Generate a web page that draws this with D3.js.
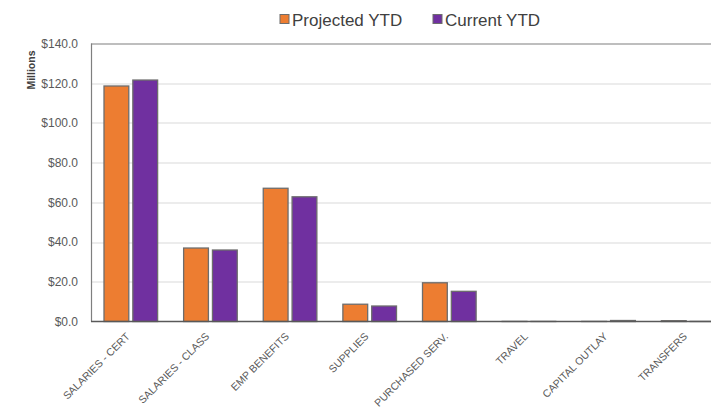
<!DOCTYPE html>
<html>
<head>
<meta charset="utf-8">
<script src="https://cdn.jsdelivr.net/npm/d3@7"></script>
<style>
  html, body { margin: 0; padding: 0; background: #fff; }
  svg { display: block; font-family: "Liberation Sans", Arial, sans-serif; }
</style>
</head>
<body>
<svg id="chart" width="711" height="412"></svg>
<script>
// Budget categories and year-to-date spending (millions of dollars)
const categories = ["SALARIES - CERT", "SALARIES - CLASS", "EMP BENEFITS", "SUPPLIES",
  "PURCHASED SERV.", "TRAVEL", "CAPITAL OUTLAY", "TRANSFERS"];
const projectedYTD = [118.6, 37.0, 67.1, 8.7, 19.5, 0.05, 0.05, 0.4];
const currentYTD   = [121.6, 36.0, 62.8, 7.8, 15.2, 0.05, 0.5, 0.05];
const seriesNames = ["Projected YTD", "Current YTD"];
const seriesColors = ["#ED7D31", "#7030A0"];
const yTicks = [0, 20, 40, 60, 80, 100, 120, 140];

const svg = d3.select("#chart");
const margin = { left: 91, top: 43.5, right: -17, bottom: 90.5 };
const W = 711, H = 412;
const plotW = W - margin.left - margin.right;
const plotH = H - margin.top - margin.bottom;

const x = d3.scaleBand().domain(categories).range([0, plotW]).paddingInner(0).paddingOuter(0);
const x1 = d3.scaleBand().domain(seriesNames).range([13, x.bandwidth() - 13]).paddingInner(0.14);
const y = d3.scaleLinear().domain([0, 140]).range([plotH, 0]);

const g = svg.append("g").attr("transform", `translate(${margin.left},${margin.top})`);

// horizontal gridlines
g.append("g").selectAll("line").data(yTicks.slice(1, -1)).join("line")
  .attr("x1", 0).attr("x2", plotW)
  .attr("y1", d => Math.round(y(d)) + 0.5).attr("y2", d => Math.round(y(d)) + 0.5)
  .attr("stroke", "#d9d9d9").attr("stroke-width", 1);

// y axis labels
const yAxis = d3.axisLeft(y).tickValues(yTicks).tickSize(0).tickPadding(13)
  .tickFormat(d => "$" + d.toFixed(1));
const ya = g.append("g").call(yAxis);
ya.select(".domain").remove();
ya.selectAll("text").attr("fill", "#595959").style("font-size", "12px")
  .style("font-family", "'Liberation Sans', Arial, sans-serif");

// bars
const rows = categories.map((c, i) => ({ c, vals: [projectedYTD[i], currentYTD[i]] }));
const groups = g.append("g").selectAll("g").data(rows).join("g")
  .attr("transform", d => `translate(${x(d.c)},0)`);
groups.selectAll("rect").data(d => d.vals.map((v, j) => ({ v, s: seriesNames[j], j }))).join("rect")
  .attr("x", d => x1(d.s))
  .attr("width", x1.bandwidth())
  .attr("y", d => y(d.v))
  .attr("height", d => plotH - y(d.v))
  .attr("fill", d => seriesColors[d.j])
  .attr("stroke", "#6d6d6d").attr("stroke-width", 1.3);

// plot frame: left, top, bottom
g.append("line").attr("x1", 0.5).attr("x2", 0.5).attr("y1", 0).attr("y2", plotH)
  .attr("stroke", "#7f7f7f").attr("stroke-width", 1.2);
g.append("line").attr("x1", 0).attr("x2", plotW).attr("y1", 0.5).attr("y2", 0.5)
  .attr("stroke", "#7f7f7f").attr("stroke-width", 1.2);
g.append("line").attr("x1", 0).attr("x2", plotW).attr("y1", plotH).attr("y2", plotH)
  .attr("stroke", "#595959").attr("stroke-width", 1.5);

// category labels, rotated
const xAxis = d3.axisBottom(x).tickSize(0).tickPadding(0);
const xa = g.append("g").attr("transform", `translate(0,${plotH})`).call(xAxis);
xa.select(".domain").remove();
xa.selectAll("text")
  .attr("fill", "#595959").style("font-size", "10.5px")
  .style("font-family", "'Liberation Sans', Arial, sans-serif")
  .attr("text-anchor", "end")
  .attr("dy", "0.35em")
  .attr("transform", "translate(-3,13) rotate(-45)");

// y axis title
svg.append("text")
  .attr("transform", "translate(35,70) rotate(-90)")
  .attr("text-anchor", "middle")
  .attr("fill", "#404040")
  .style("font-size", "10.5px").style("font-weight", "bold")
  .text("Millions");

// legend
const legend = svg.append("g");
const legendX = [280, 433];
seriesNames.forEach((n, i) => {
  legend.append("rect").attr("x", legendX[i]).attr("y", 14.5).attr("width", 9).attr("height", 9)
    .attr("fill", seriesColors[i]).attr("stroke", "#6d6d6d").attr("stroke-width", 1);
  legend.append("text").attr("x", legendX[i] + 12).attr("y", 25.5)
    .attr("fill", "#404040").style("font-size", "17px").text(n);
});
</script>
</body>
</html>
